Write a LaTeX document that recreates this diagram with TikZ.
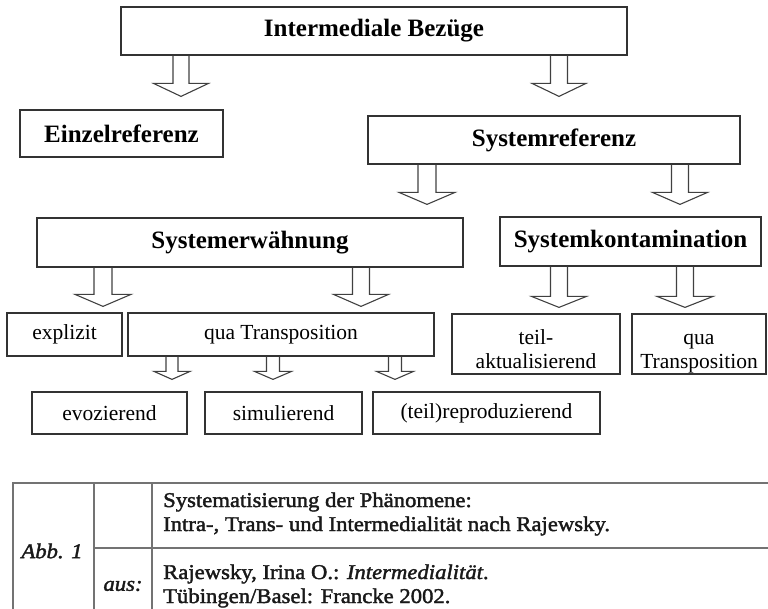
\documentclass[tikz,border=0pt]{standalone}
\usepackage{fontspec}
\setmainfont{Liberation Serif}
\newfontfamily\capfont[FakeBold=1.8,FakeStretch=1.08]{Liberation Serif}
\usetikzlibrary{calc}
\newcommand\blockarr[7]{%
  \draw[arrline] let \p1=(#1.south), \p2=(#2.north) in
    (#3pt-#4pt,\y1) -- (#3pt-#4pt,\y2+#7pt+#6pt) -- (#3pt-#5pt,\y2+#7pt+#6pt)
    -- (#3pt,\y2+#7pt) -- (#3pt+#5pt,\y2+#7pt+#6pt) -- (#3pt+#4pt,\y2+#7pt+#6pt)
    -- (#3pt+#4pt,\y1);}
\newcommand\twolines[2]{\raisebox{-12.5pt}[0pt][0pt]{\begin{tabular}{@{}c@{}}#1\\#2\end{tabular}}}
\begin{document}
\begin{tikzpicture}[x=1pt,y=1pt,
  box/.style={draw=black!80, line width=1.2pt, rectangle, inner sep=0pt, align=center},
  hd/.style={font=\bfseries\fontsize{25}{30}\selectfont},
  tx/.style={font=\fontsize{21.5}{24}\selectfont},
  arrline/.style={draw=black!75, line width=1.1pt, line join=miter},
  tline/.style={draw=black!55, line width=1.6pt},
  captext/.style={font=\capfont\fontsize{21}{24}\selectfont, inner sep=0pt, text=black!90}]
\useasboundingbox (0,0) rectangle (768,-609);
% boxes
\node[box,hd,minimum width=506,minimum height=48] (top) at (374,-31) {Intermediale Bezüge};
\node[box,hd,minimum width=203,minimum height=47] (einzel) at (121.5,-133.5) {Einzelreferenz};
\node[box,hd,minimum width=372,minimum height=48] (sysref) at (554,-140) {Systemreferenz};
\node[box,hd,minimum width=426,minimum height=49] (syserw) at (250,-242.5) {Systemerwähnung};
\node[box,hd,minimum width=261,minimum height=49] (syskon) at (630.5,-241.5) {Systemkontamination};
\node[box,tx,minimum width=115,minimum height=43] (explizit) at (64.5,-334.5) {explizit};
\node[box,tx,minimum width=306,minimum height=43] (quaT) at (281,-334.5) {qua Transposition};
\node[box,tx,minimum width=168,minimum height=60] (teilakt) at (536,-344) {\twolines{teil-}{aktualisierend}};
\node[box,tx,minimum width=134,minimum height=60] (quaT2) at (699,-344) {\twolines{qua}{Transposition}};
\node[box,tx,minimum width=155,minimum height=42] (evoz) at (109.5,-413) {evozierend};
\node[box,tx,minimum width=157,minimum height=42] (simul) at (283.5,-413) {simulierend};
\node[box,tx,minimum width=227,minimum height=42] (teilrep) at (486.5,-413) {(teil)reproduzierend};
% block arrows
\blockarr{top}{einzel}{181}{8}{27.5}{13}{13}
\blockarr{top}{sysref}{559}{8.5}{27}{13}{19}
\blockarr{sysref}{syserw}{427}{9}{28}{12}{13}
\blockarr{sysref}{syskon}{680}{8.5}{27.5}{12}{12}
\blockarr{syserw}{explizit}{103}{9}{28}{12}{6}
\blockarr{syserw}{quaT}{361}{8.5}{27.5}{12}{6}
\blockarr{syskon}{teilakt}{559}{8.5}{27.5}{11}{6}
\blockarr{syskon}{quaT2}{685}{8.5}{28}{11}{6}
\blockarr{quaT}{evoz}{172}{6}{18}{8}{12}
\blockarr{quaT}{simul}{273}{6.5}{18.5}{8}{12}
\blockarr{quaT}{teilrep}{395}{6.5}{18.5}{8}{12}
% caption table
\draw[tline] (13,-612) -- (13,-483) -- (770,-483);
\draw[tline] (94,-483) -- (94,-612);
\draw[tline] (152,-483) -- (152,-612);
\draw[tline] (94,-548) -- (770,-548);
\node[captext] (abb) at (52,-551) {\itshape Abb. 1};
\node[captext] (aus) at (123,-586) {\itshape aus:};
\node[captext, anchor=west, align=left] (c1) at (163,-514) {Systematisierung der Phänomene:\\Intra-, Trans- und Intermedialität nach Rajewsky.};
\node[captext, anchor=west, align=left] (c2) at (163,-586) {Rajewsky, Irina O.: \textit{Intermedialität}.\\Tübingen/Basel: Francke 2002.};
\end{tikzpicture}
\end{document}
